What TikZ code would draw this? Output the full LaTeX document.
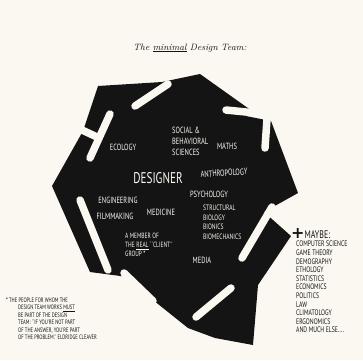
\documentclass[tikz,border=0pt]{standalone}
\usepackage{fontspec}
\usepackage{xcolor}
\usepackage{tikz}
\usetikzlibrary{positioning}
\newfontfamily\handfont[FakeStretch=0.72]{PT Sans}
\newfontfamily\plusfont{DejaVu Sans}
\definecolor{mdpaper}{HTML}{FAF8F1}
\definecolor{mdink}{HTML}{141414}
\tikzset{
  mdblob/.style={fill=mdink, draw=none},
  mdslit/.style={draw=mdpaper, line width=7.5pt, line cap=round},
  mdlabel/.style={font=\handfont\fontsize{9}{11}\selectfont, text=mdpaper, align=left, inner sep=0pt},
  mdbig/.style={font=\handfont\fontsize{15.5}{15.5}\selectfont, text=mdpaper, inner sep=0pt},
  mdnote/.style={font=\handfont\fontsize{6.4}{7.5}\selectfont, text=mdink, align=left, inner sep=0pt},
  mdlist/.style={font=\handfont\fontsize{8}{8.6}\selectfont, text=mdink, align=left, inner sep=0pt}
}

\begin{document}
\begin{tikzpicture}[x=1pt,y=-1pt]
  \fill[mdpaper] (0,0) rectangle (363,360);
  \useasboundingbox (0,0) rectangle (363,360);

  \node[font=\itshape\fontsize{9.2}{9.2}\selectfont, text=mdink] (title) at (190,48) {The \underline{minimal} Design Team:};

  \fill[mdblob] (98,86) -- (162,82) -- (200,74) -- (252,111) -- (246,116) -- (271,121)
    -- (298,193) -- (264,212) -- (291,236) -- (258,285) -- (253,345) -- (215,338) -- (188,328)
    -- (153,300) -- (128,277) -- (90,272) -- (52,186) -- (83,131) -- cycle;

  \foreach \xa/\ya/\xb/\yb in {168/84/135/106, 256/113/226/110, 267/119/265/148,
                               272/207/242/258, 231/288/196/317, 124/273/153/301,
                               80/200/108/270, 110/114/90/158, 82/130/97/137} {
    \draw[mdslit] (\xa,\ya) -- (\xb,\yb);
  }

  \node[mdlabel, anchor=north west] (social) at (172,127) {SOCIAL \&\\BEHAVIORAL\\SCIENCES};
  \node[mdlabel] (ecology) at (123,147) {ECOLOGY};
  \node[mdlabel] (maths) at (227,146) {MATHS};
  \node[mdbig] (designer) at (158,178) {DESIGNER};
  \node[mdlabel, rotate=4] (anthro) at (224,173) {ANTHROPOLOGY};
  \node[mdlabel] (psych) at (209,194) {PSYCHOLOGY};
  \node[mdlabel] (engineering) at (118,200) {ENGINEERING};
  \node[mdlabel] (film) at (115,216) {FILMMAKING};
  \node[mdlabel] (medicine) at (161,212) {MEDICINE};
  \node[mdlabel, anchor=north west, font=\handfont\fontsize{7.8}{9.5}\selectfont] (struct) at (203,205) {STRUCTURAL\\BIOLOGY\\BIONICS\\BIOMECHANICS};
  \node[mdlabel, anchor=north west, font=\handfont\fontsize{7.6}{9}\selectfont] (member) at (125,233) {A MEMBER OF\\THE \underline{REAL} ``CLIENT''\\GROUP \textbf{*}};
  \node[mdlabel] (media) at (202,260) {MEDIA};

  \node[anchor=west, inner sep=0pt, text=mdink, font=\handfont\fontsize{11}{11}\selectfont] (maybe) at (291,234) {{\plusfont\fontsize{16}{16}\selectfont\bfseries +}MAYBE:};
  \node[mdlist, anchor=north west] (fields) at (296,241) {COMPUTER SCIENCE\\GAME THEORY\\DEMOGRAPHY\\ETHOLOGY\\STATISTICS\\ECONOMICS\\POLITICS\\LAW\\CLIMATOLOGY\\ERGONOMICS\\AND MUCH ELSE....};

  \node[mdnote, anchor=north west] (note) at (6,298) {\textbf{*} THE PEOPLE FOR WHOM THE};
  \node[mdnote, anchor=north west] (quote) at (18,305) {DESIGN TEAM WORKS \underline{MUST}\\BE PART OF THE DESIGN\\TEAM: ``IF YOU'RE NOT PART\\OF THE ANSWER, YOU'RE PART\\OF THE PROBLEM.'' ELDRIDGE CLEAVER};
\end{tikzpicture}
\end{document}
